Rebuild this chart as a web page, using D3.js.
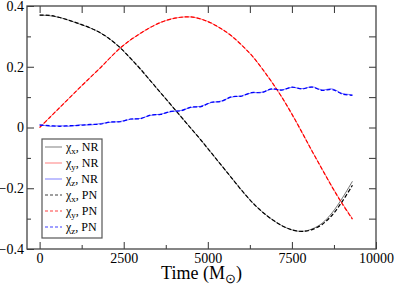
<!DOCTYPE html>
<html>
<head>
<meta charset="utf-8">
<script src="https://cdn.jsdelivr.net/npm/d3@7"></script>
<style>
  body { margin: 0; background: #fff; }
  svg text { font-family: "Liberation Serif", "Times New Roman", serif; }
</style>
</head>
<body>
<svg id="chart" width="395" height="288"></svg>
<script>
// time samples (M_sun)
const time = [0, 300, 600, 900, 1200, 1500, 1800, 2100, 2400, 2700, 3000, 3300, 3600, 3900, 4200, 4500,
  4800, 5100, 5400, 5700, 6000, 6300, 6600, 6900, 7200, 7500, 7800, 8100, 8400, 8700, 9000, 9300];

// numerical relativity
const chi_x_nr = [0.370, 0.368, 0.362, 0.352, 0.340, 0.328, 0.312, 0.290, 0.262, 0.228, 0.192, 0.153, 0.114, 0.075, 0.036, -0.003,
  -0.042, -0.083, -0.124, -0.165, -0.206, -0.244, -0.276, -0.302, -0.323, -0.337, -0.342, -0.334, -0.315, -0.280, -0.232, -0.177];
const chi_y_nr = [0.000, 0.033, 0.066, 0.099, 0.132, 0.164, 0.196, 0.230, 0.262, 0.288, 0.310, 0.330, 0.346, 0.357, 0.363, 0.364,
  0.357, 0.344, 0.325, 0.302, 0.272, 0.238, 0.196, 0.150, 0.100, 0.044, -0.016, -0.078, -0.137, -0.196, -0.250, -0.300];
const chi_z_nr = [0.010, 0.004, 0.006, 0.004, 0.009, 0.008, 0.013, 0.017, 0.020, 0.027, 0.030, 0.040, 0.044, 0.052, 0.056, 0.066,
  0.070, 0.082, 0.087, 0.100, 0.104, 0.114, 0.116, 0.126, 0.124, 0.132, 0.128, 0.134, 0.124, 0.127, 0.112, 0.108];

// post-Newtonian
const chi_x_pn = [0.370, 0.369, 0.362, 0.352, 0.341, 0.328, 0.312, 0.290, 0.262, 0.228, 0.192, 0.153, 0.114, 0.075, 0.036, -0.003,
  -0.042, -0.083, -0.124, -0.165, -0.206, -0.244, -0.276, -0.302, -0.323, -0.337, -0.342, -0.336, -0.319, -0.288, -0.243, -0.190];
const chi_y_pn = [0.000, 0.033, 0.066, 0.099, 0.132, 0.164, 0.196, 0.230, 0.262, 0.288, 0.310, 0.330, 0.346, 0.357, 0.363, 0.364,
  0.357, 0.344, 0.325, 0.302, 0.272, 0.238, 0.196, 0.150, 0.100, 0.044, -0.016, -0.078, -0.138, -0.197, -0.252, -0.302];
const chi_z_pn = [0.008, 0.006, 0.004, 0.006, 0.007, 0.010, 0.011, 0.018, 0.019, 0.028, 0.029, 0.041, 0.043, 0.053, 0.055, 0.067,
  0.069, 0.083, 0.086, 0.101, 0.103, 0.115, 0.115, 0.127, 0.123, 0.133, 0.127, 0.133, 0.122, 0.125, 0.110, 0.106];

const x_ticks = [0, 2500, 5000, 7500, 10000];
const y_ticks = [-0.4, -0.2, 0, 0.2, 0.4];

const series = [
  { name: "x", tag: "NR", values: chi_x_nr, color: "#000000", dash: null },
  { name: "y", tag: "NR", values: chi_y_nr, color: "#ff0000", dash: null },
  { name: "z", tag: "NR", values: chi_z_nr, color: "#0000ff", dash: null },
  { name: "x", tag: "PN", values: chi_x_pn, color: "#000000", dash: "4,2" },
  { name: "y", tag: "PN", values: chi_y_pn, color: "#ff0000", dash: "4,2" },
  { name: "z", tag: "PN", values: chi_z_pn, color: "#0000ff", dash: "4,2" }
];

const svg = d3.select("#chart");
const margin = { top: 6, right: 19, bottom: 39, left: 27 };
const width = 395, height = 288;
const serif = "'Liberation Serif', 'Times New Roman', serif";

const x = d3.scaleLinear().domain([-375, 10000]).range([margin.left, width - margin.right]);
const y = d3.scaleLinear().domain([-0.4, 0.4]).range([height - margin.bottom, margin.top]);

const fmt = d => d === 0 ? "0" : d3.format(".1f")(d);

// ticks, inward on all four sides
const x_minor = d3.range(0, 10001, 1250).filter(d => !x_ticks.includes(d));
const y_minor = [-0.3, -0.1, 0.1, 0.3];

svg.append("g").attr("transform", `translate(0,${height - margin.bottom})`)
  .call(d3.axisBottom(x).tickValues(x_ticks).tickSize(-7).tickPadding(4).tickSizeOuter(0).tickFormat(d3.format("d")))
  .call(g => g.select(".domain").remove())
  .call(g => g.selectAll("text").style("font-family", serif).attr("font-size", 14).attr("fill", "#000"));
svg.append("g").attr("transform", `translate(0,${height - margin.bottom})`)
  .call(d3.axisBottom(x).tickValues(x_minor).tickSize(-4).tickFormat(""))
  .call(g => g.select(".domain").remove());
svg.append("g").attr("transform", `translate(0,${margin.top})`)
  .call(d3.axisTop(x).tickValues(x_ticks.filter(d => d < 10000).concat(x_minor)).tickSize(-7).tickFormat(""))
  .call(g => g.select(".domain").remove());

svg.append("g").attr("transform", `translate(${margin.left},0)`)
  .call(d3.axisLeft(y).tickValues(y_ticks).tickSize(-7).tickPadding(3).tickFormat(fmt))
  .call(g => g.select(".domain").remove())
  .call(g => g.selectAll("text").style("font-family", serif).attr("font-size", 14).attr("fill", "#000"));
svg.append("g").attr("transform", `translate(${margin.left},0)`)
  .call(d3.axisLeft(y).tickValues(y_minor).tickSize(-4).tickFormat(""))
  .call(g => g.select(".domain").remove());
svg.append("g").attr("transform", `translate(${width - margin.right},0)`)
  .call(d3.axisRight(y).tickValues(y_ticks.concat(y_minor).filter(d => Math.abs(d) < 0.4)).tickSize(-7).tickFormat(""))
  .call(g => g.select(".domain").remove());

svg.selectAll(".tick line").attr("stroke", "#333");

// frame
svg.append("rect")
  .attr("x", margin.left).attr("y", margin.top)
  .attr("width", width - margin.left - margin.right)
  .attr("height", height - margin.top - margin.bottom)
  .attr("fill", "none").attr("stroke", "#444").attr("stroke-width", 1.3);

// curves
const line = d3.line().x((d, i) => x(time[i])).y(d => y(d)).curve(d3.curveCatmullRom);
svg.append("g").selectAll("path")
  .data(series)
  .join("path")
  .attr("d", d => line(d.values))
  .attr("fill", "none")
  .attr("stroke", d => d.color)
  .attr("stroke-opacity", d => d.dash ? 1 : 0.55)
  .attr("stroke-width", d => d.dash ? 1.2 : 1)
  .attr("stroke-dasharray", d => d.dash);

// legend
const legend = svg.append("g");
legend.append("rect")
  .attr("x", 42).attr("y", 139).attr("width", 60).attr("height", 99)
  .attr("fill", "#fff").attr("stroke", "#555").attr("stroke-width", 1.2);
const item = legend.selectAll("g.item").data(series).join("g")
  .attr("class", "item")
  .attr("transform", (d, i) => `translate(0,${147 + i * 16})`);
item.append("line")
  .attr("x1", 45).attr("x2", 62)
  .attr("stroke", d => d.color)
  .attr("stroke-opacity", d => d.dash ? 0.75 : 0.5)
  .attr("stroke-width", d => d.dash ? 1.2 : 1)
  .attr("stroke-dasharray", d => d.dash ? "3,2" : null);
const label = item.append("text").attr("x", 66).attr("y", 4).attr("font-size", 12).attr("fill", "#000");
label.append("tspan").text("χ");
label.append("tspan").attr("font-size", 9).attr("dy", 3).text(d => d.name);
label.append("tspan").attr("dy", -3).text(d => ", " + d.tag);

// x axis title
const title = svg.append("text")
  .attr("x", (margin.left + width - margin.right) / 2).attr("y", 279)
  .attr("text-anchor", "middle").attr("font-size", 18).attr("fill", "#000");
title.append("tspan").text("Time (M");
title.append("tspan").attr("font-size", 13).attr("dy", 4).text("⊙");
title.append("tspan").attr("dy", -4).text(")");
</script>
</body>
</html>
